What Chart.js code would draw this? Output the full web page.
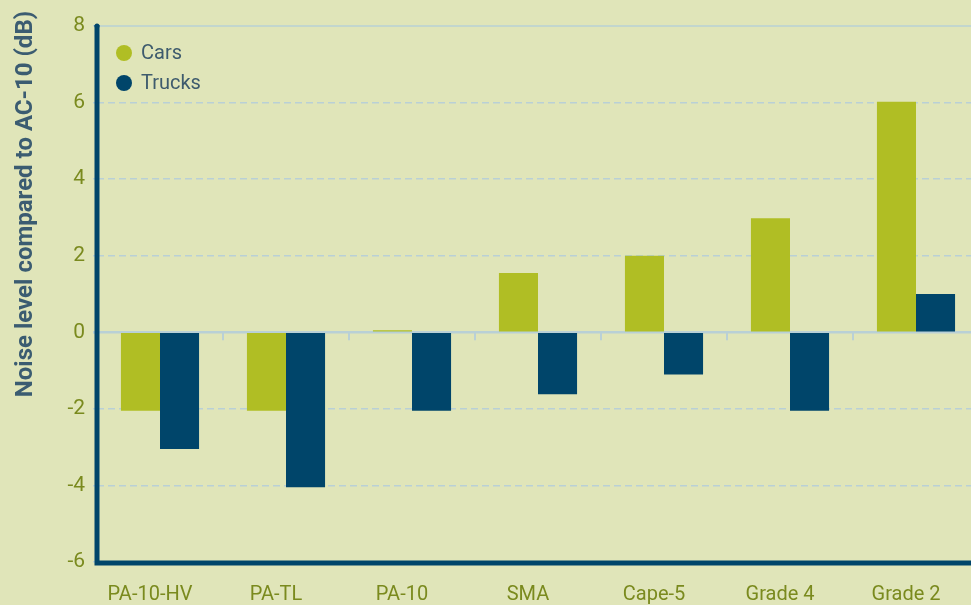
<!DOCTYPE html>
<html>
<head>
<meta charset="utf-8">
<script src="https://cdn.jsdelivr.net/npm/chart.js@4.4.1/dist/chart.umd.min.js"></script>
<style>
  html, body { margin: 0; padding: 0; background: #e0e5b9; overflow: hidden; }
  #wrap { width: 990px; height: 605px; }
</style>
</head>
<body>
<div id="wrap"><canvas id="noiseChart" width="990" height="605"></canvas></div>
<script>
const categories = ["PA-10-HV", "PA-TL", "PA-10", "SMA", "Cape-5", "Grade 4", "Grade 2"];
const carsValues = [-2.05, -2.05, 0.05, 1.55, 2.0, 2.98, 6.02];
const trucksValues = [-3.05, -4.05, -2.05, -1.62, -1.1, -2.05, 1.0];
const yTicks = [-6, -4, -2, 0, 2, 4, 6, 8];

const FONT = "Roboto, 'Liberation Sans', sans-serif";
const OLIVE = "#7a8a1e";
const NAVY = "#00456a";
const GRID = "#b9d0d6";

// zero line, top line, category ticks off the zero line, heavy axes, title and legend
const frameLines = {
  id: "frameLines",
  beforeDatasetsDraw(chart) {
    const { ctx, chartArea, scales } = chart;
    const y0 = scales.y.getPixelForValue(0);
    const yTop = scales.y.getPixelForValue(8);
    ctx.save();
    ctx.strokeStyle = GRID;
    ctx.lineWidth = 2.5;
    ctx.beginPath();
    ctx.moveTo(chartArea.left - 4, y0);
    ctx.lineTo(chartArea.right, y0);
    ctx.stroke();
    ctx.lineWidth = 1.5;
    ctx.beginPath();
    ctx.moveTo(chartArea.left, yTop);
    ctx.lineTo(chartArea.right, yTop);
    ctx.stroke();
    ctx.lineWidth = 2;
    for (let i = 1; i < categories.length; i++) {
      const x = scales.x.getPixelForValue(i - 0.5);
      ctx.beginPath();
      ctx.moveTo(x, y0);
      ctx.lineTo(x, y0 + 8);
      ctx.stroke();
    }
    ctx.restore();
  },
  afterDatasetsDraw(chart) {
    const { ctx, chartArea } = chart;
    ctx.save();
    ctx.strokeStyle = NAVY;
    ctx.lineWidth = 5;
    ctx.beginPath();
    ctx.moveTo(chartArea.left, chartArea.top - 1);
    ctx.lineTo(chartArea.left, chartArea.bottom + 1);
    ctx.lineTo(chartArea.right + 20, chartArea.bottom + 1);
    ctx.stroke();
    ctx.beginPath();
    ctx.fillStyle = NAVY;
    ctx.arc(chartArea.left, chartArea.top, 2.5, 0, Math.PI * 2);
    ctx.fill();

    // legend
    ctx.font = "20px " + FONT;
    ctx.textBaseline = "middle";
    ctx.textAlign = "left";
    chart.data.datasets.forEach((ds, i) => {
      const cy = chartArea.top + 27 + i * 30;
      ctx.fillStyle = ds.backgroundColor;
      ctx.beginPath();
      ctx.arc(chartArea.left + 27, cy, 8, 0, Math.PI * 2);
      ctx.fill();
      ctx.fillStyle = "#3e5b6d";
      ctx.fillText(ds.label, chartArea.left + 44, cy + 1);
    });

    // axis title
    ctx.fillStyle = "#3b5c71";
    ctx.font = "bold 24px " + FONT;
    ctx.textAlign = "center";
    ctx.translate(26, 204);
    ctx.rotate(-Math.PI / 2);
    ctx.fillText("Noise level compared to AC-10 (dB)", 0, 0);
    ctx.restore();
  }
};

new Chart(document.getElementById("noiseChart"), {
  type: "bar",
  data: {
    labels: categories,
    datasets: [
      {
        label: "Cars",
        data: carsValues,
        backgroundColor: "#b0be24",
        borderWidth: 0,
        categoryPercentage: 0.62,
        barPercentage: 1.0
      },
      {
        label: "Trucks",
        data: trucksValues,
        backgroundColor: NAVY,
        borderWidth: 0,
        categoryPercentage: 0.62,
        barPercentage: 1.0
      }
    ]
  },
  options: {
    responsive: false,
    animation: false,
    layout: { padding: { top: 26, right: 11, left: 0, bottom: 0 } },
    plugins: {
      tooltip: { enabled: false },
      legend: { display: false }
    },
    scales: {
      x: {
        grid: { display: false, drawTicks: false },
        border: { display: false },
        ticks: {
          color: OLIVE,
          font: { family: FONT, size: 20 },
          padding: 21,
          labelOffset: -10,
          maxRotation: 0
        },
        afterFit(scale) { scale.height = 43; }
      },
      y: {
        min: -6,
        max: 8,
        afterBuildTicks(scale) { scale.ticks = yTicks.map(v => ({ value: v })); },
        grid: {
          color: ctx => (ctx.tick && (ctx.tick.value === 0 || ctx.tick.value === 8)) ? "rgba(0,0,0,0)" : GRID,
          lineWidth: 1.5,
          drawTicks: true,
          tickLength: 4,
          tickColor: GRID
        },
        border: { display: false, dash: [7, 4] },
        ticks: {
          color: OLIVE,
          font: { family: FONT, size: 21 },
          padding: 8
        },
        afterFit(scale) { scale.width = 97; }
      }
    }
  },
  plugins: [frameLines]
});
</script>
</body>
</html>
